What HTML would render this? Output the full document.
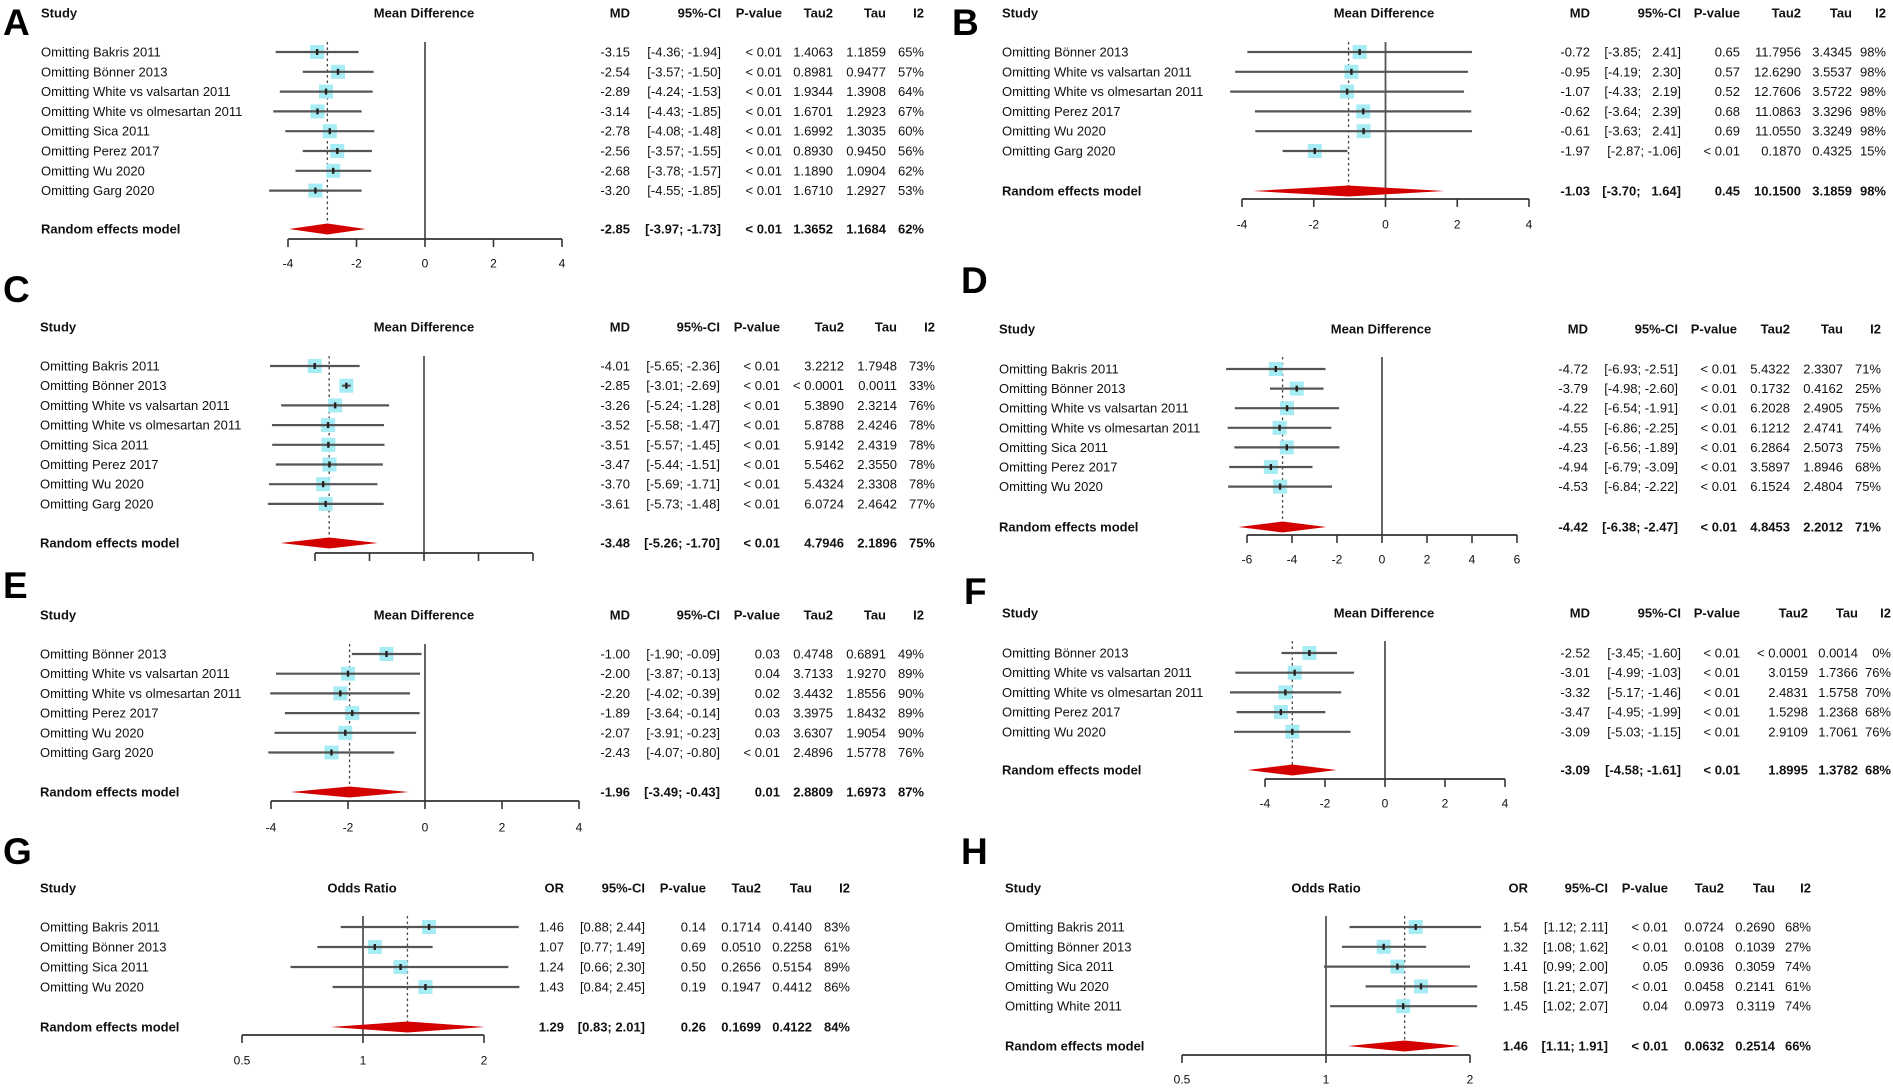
<!DOCTYPE html>
<html><head><meta charset="utf-8"><style>
html,body{margin:0;padding:0;background:#fff;}
svg{display:block;font-family:"Liberation Sans",Arial,sans-serif;}
</style></head><body>
<svg id="fig" width="1893" height="1091" viewBox="0 0 1893 1091" xmlns="http://www.w3.org/2000/svg">
<rect width="1893" height="1091" fill="#fff"/>
</svg>
<script>
// ---------- Panel A ----------
const A_studies=["Omitting Bakris 2011","Omitting Bönner 2013","Omitting White vs valsartan 2011","Omitting White  vs olmesartan 2011","Omitting Sica 2011","Omitting Perez 2017","Omitting Wu 2020","Omitting Garg 2020"];
const A_est=[-3.15,-2.54,-2.89,-3.14,-2.78,-2.56,-2.68,-3.20];
const A_lo=[-4.36,-3.57,-4.24,-4.43,-4.08,-3.57,-3.78,-4.55];
const A_hi=[-1.94,-1.50,-1.53,-1.85,-1.48,-1.55,-1.57,-1.85];
const A_p=["< 0.01","< 0.01","< 0.01","< 0.01","< 0.01","< 0.01","< 0.01","< 0.01"];
const A_tau2=["1.4063","0.8981","1.9344","1.6701","1.6992","0.8930","1.1890","1.6710"];
const A_tau=["1.1859","0.9477","1.3908","1.2923","1.3035","0.9450","1.0904","1.2927"];
const A_i2=["65%","57%","64%","67%","60%","56%","62%","53%"];
const A_pooled=[-2.85,-3.97,-1.73];
const A_pooledStats=["< 0.01","1.3652","1.1684","62%"];
const A_ticks=[-4,-2,0,2,4];
// ---------- Panel B ----------
const B_studies=["Omitting Bönner 2013","Omitting White vs valsartan 2011","Omitting White  vs olmesartan 2011","Omitting Perez 2017","Omitting Wu 2020","Omitting Garg 2020"];
const B_est=[-0.72,-0.95,-1.07,-0.62,-0.61,-1.97];
const B_lo=[-3.85,-4.19,-4.33,-3.64,-3.63,-2.87];
const B_hi=[2.41,2.30,2.19,2.39,2.41,-1.06];
const B_p=["0.65","0.57","0.52","0.68","0.69","< 0.01"];
const B_tau2=["11.7956","12.6290","12.7606","11.0863","11.0550","0.1870"];
const B_tau=["3.4345","3.5537","3.5722","3.3296","3.3249","0.4325"];
const B_i2=["98%","98%","98%","98%","98%","15%"];
const B_pooled=[-1.03,-3.70,1.64];
const B_pooledStats=["0.45","10.1500","3.1859","98%"];
const B_ticks=[-4,-2,0,2,4];
// ---------- Panel C ----------
const C_studies=["Omitting Bakris 2011","Omitting Bönner 2013","Omitting White vs valsartan 2011","Omitting White  vs olmesartan 2011","Omitting Sica 2011","Omitting Perez 2017","Omitting Wu 2020","Omitting Garg 2020"];
const C_est=[-4.01,-2.85,-3.26,-3.52,-3.51,-3.47,-3.70,-3.61];
const C_lo=[-5.65,-3.01,-5.24,-5.58,-5.57,-5.44,-5.69,-5.73];
const C_hi=[-2.36,-2.69,-1.28,-1.47,-1.45,-1.51,-1.71,-1.48];
const C_p=["< 0.01","< 0.01","< 0.01","< 0.01","< 0.01","< 0.01","< 0.01","< 0.01"];
const C_tau2=["3.2212","< 0.0001","5.3890","5.8788","5.9142","5.5462","5.4324","6.0724"];
const C_tau=["1.7948","0.0011","2.3214","2.4246","2.4319","2.3550","2.3308","2.4642"];
const C_i2=["73%","33%","76%","78%","78%","78%","78%","77%"];
const C_pooled=[-3.48,-5.26,-1.70];
const C_pooledStats=["< 0.01","4.7946","2.1896","75%"];
const C_ticks=[-4,-2,0,2,4];
// ---------- Panel D ----------
const D_studies=["Omitting Bakris 2011","Omitting Bönner 2013","Omitting White vs valsartan 2011","Omitting White  vs olmesartan 2011","Omitting Sica 2011","Omitting Perez 2017","Omitting Wu 2020"];
const D_est=[-4.72,-3.79,-4.22,-4.55,-4.23,-4.94,-4.53];
const D_lo=[-6.93,-4.98,-6.54,-6.86,-6.56,-6.79,-6.84];
const D_hi=[-2.51,-2.60,-1.91,-2.25,-1.89,-3.09,-2.22];
const D_p=["< 0.01","< 0.01","< 0.01","< 0.01","< 0.01","< 0.01","< 0.01"];
const D_tau2=["5.4322","0.1732","6.2028","6.1212","6.2864","3.5897","6.1524"];
const D_tau=["2.3307","0.4162","2.4905","2.4741","2.5073","1.8946","2.4804"];
const D_i2=["71%","25%","75%","74%","75%","68%","75%"];
const D_pooled=[-4.42,-6.38,-2.47];
const D_pooledStats=["< 0.01","4.8453","2.2012","71%"];
const D_ticks=[-6,-4,-2,0,2,4,6];
// ---------- Panel E ----------
const E_studies=["Omitting Bönner 2013","Omitting White vs valsartan 2011","Omitting White  vs olmesartan 2011","Omitting Perez 2017","Omitting Wu 2020","Omitting Garg 2020"];
const E_est=[-1.00,-2.00,-2.20,-1.89,-2.07,-2.43];
const E_lo=[-1.90,-3.87,-4.02,-3.64,-3.91,-4.07];
const E_hi=[-0.09,-0.13,-0.39,-0.14,-0.23,-0.80];
const E_p=["0.03","0.04","0.02","0.03","0.03","< 0.01"];
const E_tau2=["0.4748","3.7133","3.4432","3.3975","3.6307","2.4896"];
const E_tau=["0.6891","1.9270","1.8556","1.8432","1.9054","1.5778"];
const E_i2=["49%","89%","90%","89%","90%","76%"];
const E_pooled=[-1.96,-3.49,-0.43];
const E_pooledStats=["0.01","2.8809","1.6973","87%"];
const E_ticks=[-4,-2,0,2,4];
// ---------- Panel F ----------
const F_studies=["Omitting Bönner 2013","Omitting White vs valsartan 2011","Omitting White  vs olmesartan 2011","Omitting Perez 2017","Omitting Wu 2020"];
const F_est=[-2.52,-3.01,-3.32,-3.47,-3.09];
const F_lo=[-3.45,-4.99,-5.17,-4.95,-5.03];
const F_hi=[-1.60,-1.03,-1.46,-1.99,-1.15];
const F_p=["< 0.01","< 0.01","< 0.01","< 0.01","< 0.01"];
const F_tau2=["< 0.0001","3.0159","2.4831","1.5298","2.9109"];
const F_tau=["0.0014","1.7366","1.5758","1.2368","1.7061"];
const F_i2=["0%","76%","70%","68%","76%"];
const F_pooled=[-3.09,-4.58,-1.61];
const F_pooledStats=["< 0.01","1.8995","1.3782","68%"];
const F_ticks=[-4,-2,0,2,4];
// ---------- Panel G ----------
const G_studies=["Omitting Bakris 2011","Omitting Bönner 2013","Omitting Sica 2011","Omitting Wu 2020"];
const G_est=[1.46,1.07,1.24,1.43];
const G_lo=[0.88,0.77,0.66,0.84];
const G_hi=[2.44,1.49,2.30,2.45];
const G_p=["0.14","0.69","0.50","0.19"];
const G_tau2=["0.1714","0.0510","0.2656","0.1947"];
const G_tau=["0.4140","0.2258","0.5154","0.4412"];
const G_i2=["83%","61%","89%","86%"];
const G_pooled=[1.29,0.83,2.01];
const G_pooledStats=["0.26","0.1699","0.4122","84%"];
const G_ticks=[0.5,1,2];
// ---------- Panel H ----------
const H_studies=["Omitting Bakris 2011","Omitting Bönner 2013","Omitting Sica 2011","Omitting Wu 2020","Omitting White 2011"];
const H_est=[1.54,1.32,1.41,1.58,1.45];
const H_lo=[1.12,1.08,0.99,1.21,1.02];
const H_hi=[2.11,1.62,2.00,2.07,2.07];
const H_p=["< 0.01","< 0.01","0.05","< 0.01","0.04"];
const H_tau2=["0.0724","0.0108","0.0936","0.0458","0.0973"];
const H_tau=["0.2690","0.1039","0.3059","0.2141","0.3119"];
const H_i2=["68%","27%","74%","61%","74%"];
const H_pooled=[1.46,1.11,1.91];
const H_pooledStats=["< 0.01","0.0632","0.2514","66%"];
const H_ticks=[0.5,1,2];

const NS="http://www.w3.org/2000/svg";
const svg=document.getElementById('fig');
function mk(parent,tag,attrs,txt){const e=document.createElementNS(NS,tag);for(const k in attrs)e.setAttribute(k,attrs[k]);if(txt!==undefined)e.textContent=txt;parent.appendChild(e);return e;}
function f2(v){return v.toFixed(2);}
function ci(lo,hi){return "["+f2(lo)+"; "+(hi>=0&&lo<0?"\u2007":"")+f2(hi)+"]";}

const panels=[
 {key:"a",letter:"A",lxL:3,lyB:35,lx:41,hy:13,y0:52,step:19.8,re:229,ax:239,tl:263,vmin:-4,vmax:4,px0:288,px1:562,mid:424,cols:[630,721,782,833,886,924],ztop:42,log:false,title:"Mean Difference",eff:"MD",showTL:true,
  d:{s:A_studies,e:A_est,lo:A_lo,hi:A_hi,p:A_p,t2:A_tau2,t:A_tau,i2:A_i2,pool:A_pooled,ps:A_pooledStats,ticks:A_ticks}},
 {key:"b",letter:"B",lxL:952,lyB:35,lx:1002,hy:13,y0:52,step:19.8,re:191,ax:199,tl:224,vmin:-4,vmax:4,px0:1242,px1:1529,mid:1384,cols:[1590,1681,1740,1801,1852,1886],ztop:42,log:false,title:"Mean Difference",eff:"MD",showTL:true,
  d:{s:B_studies,e:B_est,lo:B_lo,hi:B_hi,p:B_p,t2:B_tau2,t:B_tau,i2:B_i2,pool:B_pooled,ps:B_pooledStats,ticks:B_ticks}},
 {key:"c",letter:"C",lxL:3,lyB:302,lx:40,hy:327,y0:366,step:19.7,re:543,ax:553,tl:577,vmin:-4,vmax:4,px0:315,px1:533,mid:424,cols:[630,720,780,844,897,935],ztop:356,log:false,title:"Mean Difference",eff:"MD",showTL:false,
  d:{s:C_studies,e:C_est,lo:C_lo,hi:C_hi,p:C_p,t2:C_tau2,t:C_tau,i2:C_i2,pool:C_pooled,ps:C_pooledStats,ticks:C_ticks}},
 {key:"d",letter:"D",lxL:961,lyB:293,lx:999,hy:329,y0:369,step:19.6,re:527,ax:535,tl:559,vmin:-6,vmax:6,px0:1247,px1:1517,mid:1381,cols:[1588,1678,1737,1790,1843,1881],ztop:357,log:false,title:"Mean Difference",eff:"MD",showTL:true,
  d:{s:D_studies,e:D_est,lo:D_lo,hi:D_hi,p:D_p,t2:D_tau2,t:D_tau,i2:D_i2,pool:D_pooled,ps:D_pooledStats,ticks:D_ticks}},
 {key:"e",letter:"E",lxL:3,lyB:598,lx:40,hy:615,y0:654,step:19.7,re:792,ax:801,tl:827,vmin:-4,vmax:4,px0:271,px1:579,mid:424,cols:[630,720,780,833,886,924],ztop:644,log:false,title:"Mean Difference",eff:"MD",showTL:true,
  d:{s:E_studies,e:E_est,lo:E_lo,hi:E_hi,p:E_p,t2:E_tau2,t:E_tau,i2:E_i2,pool:E_pooled,ps:E_pooledStats,ticks:E_ticks}},
 {key:"f",letter:"F",lxL:964,lyB:604,lx:1002,hy:613,y0:653,step:19.7,re:770,ax:779,tl:803,vmin:-4,vmax:4,px0:1265,px1:1505,mid:1384,cols:[1590,1681,1740,1808,1858,1891],ztop:641,log:false,title:"Mean Difference",eff:"MD",showTL:true,
  d:{s:F_studies,e:F_est,lo:F_lo,hi:F_hi,p:F_p,t2:F_tau2,t:F_tau,i2:F_i2,pool:F_pooled,ps:F_pooledStats,ticks:F_ticks}},
 {key:"g",letter:"G",lxL:3,lyB:864,lx:40,hy:888,y0:927,step:20,re:1027,ax:1035,tl:1060,vmin:0.5,vmax:2,px0:242,px1:484,mid:362,cols:[564,645,706,761,812,850],ztop:916,log:true,title:"Odds Ratio",eff:"OR",showTL:true,
  d:{s:G_studies,e:G_est,lo:G_lo,hi:G_hi,p:G_p,t2:G_tau2,t:G_tau,i2:G_i2,pool:G_pooled,ps:G_pooledStats,ticks:G_ticks}},
 {key:"h",letter:"H",lxL:961,lyB:864,lx:1005,hy:888,y0:927,step:19.8,re:1046,ax:1055,tl:1079,vmin:0.5,vmax:2,px0:1182,px1:1470,mid:1326,cols:[1528,1608,1668,1724,1775,1811],ztop:916,log:true,title:"Odds Ratio",eff:"OR",showTL:true,
  d:{s:H_studies,e:H_est,lo:H_lo,hi:H_hi,p:H_p,t2:H_tau2,t:H_tau,i2:H_i2,pool:H_pooled,ps:H_pooledStats,ticks:H_ticks}}
];

panels.forEach(P=>{
  const D=P.d;
  const xs=v=>P.log? P.px0+(Math.log2(v)-Math.log2(P.vmin))/(Math.log2(P.vmax)-Math.log2(P.vmin))*(P.px1-P.px0)
                   : P.px0+(v-P.vmin)/(P.vmax-P.vmin)*(P.px1-P.px0);
  const g=mk(svg,'g',{});
  
  
  const L=mk(g,'text',{x:P.lxL,y:P.lyB,'font-size':37,'font-weight':'bold',fill:'#000'},P.letter);
  
  
  const T=(x,y,s,anchor,bold,name)=>{const t=mk(g,'text',{x:x,y:y+4.5,'font-size':13,'text-anchor':anchor,'font-weight':bold?'bold':'normal',fill:'#111'},s);
    
    
    return t;};
  T(P.lx,P.hy,"Study","start",true,"study-header");
  T(P.mid,P.hy,P.title,"middle",true,"effect-axis-header");
  const hdrs=[P.eff,"95%-CI","P-value","Tau2","Tau","I2"];
  hdrs.forEach((h,i)=>T(P.cols[i],P.hy,h,"end",true,"column-header-"+h.toLowerCase().replace(/[^a-z0-9]/g,'')));
  const zx=xs(P.log?1:0);
  const z=mk(g,'line',{x1:zx,x2:zx,y1:P.ztop,y2:P.ax,stroke:'#555','stroke-width':1.8});
  
  
  const px=xs(D.pool[0]);
  const dl=mk(g,'line',{x1:px,x2:px,y1:P.ztop,y2:P.re,stroke:'#444','stroke-width':1.3,'stroke-dasharray':'2.5,3'});
  
  
  D.s.forEach((s,i)=>{
    const y=P.y0+i*P.step;
    T(P.lx,y,s,"start",false,"study-label");
    const sq=mk(g,'rect',{x:xs(D.e[i])-7,y:y-7,width:14,height:14,fill:'#a6ecf5'});
    
    
    const ln=mk(g,'line',{x1:xs(D.lo[i]),x2:xs(D.hi[i]),y1:y,y2:y,stroke:'#555','stroke-width':2.2});
    
    
    const dot=mk(g,'rect',{x:xs(D.e[i])-1.2,y:y-3,width:2.4,height:6,fill:'#222'});
    
    
    T(P.cols[0],y,f2(D.e[i]),"end",false,"effect-value");
    T(P.cols[1],y,ci(D.lo[i],D.hi[i]),"end",false,"ci-value");
    T(P.cols[2],y,D.p[i],"end",false,"p-value");
    T(P.cols[3],y,D.t2[i],"end",false,"tau2-value");
    T(P.cols[4],y,D.t[i],"end",false,"tau-value");
    T(P.cols[5],y,D.i2[i],"end",false,"i2-value");
  });
  T(P.lx,P.re,"Random effects model","start",true,"random-effects-label");
  const dm=mk(g,'polygon',{points:[xs(D.pool[1])+','+P.re, px+','+(P.re-5.5), xs(D.pool[2])+','+P.re, px+','+(P.re+5.5)].join(' '),fill:'#d40000'});
  
  
  T(P.cols[0],P.re,f2(D.pool[0]),"end",true,"pooled-effect-value");
  T(P.cols[1],P.re,ci(D.pool[1],D.pool[2]),"end",true,"pooled-ci-value");
  D.ps.forEach((v,i)=>T(P.cols[i+2],P.re,v,"end",true,"pooled-stat"));
  const a=mk(g,'line',{x1:xs(D.ticks[0]),x2:xs(D.ticks[D.ticks.length-1]),y1:P.ax,y2:P.ax,stroke:'#333','stroke-width':1.8});
  
  
  D.ticks.forEach(t=>{
    const tx=xs(t);
    const tk=mk(g,'line',{x1:tx,x2:tx,y1:P.ax,y2:P.ax+8,stroke:'#333','stroke-width':1.6});
    
    
    if(P.showTL){
      const tl=mk(g,'text',{x:tx,y:P.tl+4.5,'font-size':12,'text-anchor':'middle',fill:'#111'},String(t));
      
      
    }
  });
});
</script>
</body></html>
